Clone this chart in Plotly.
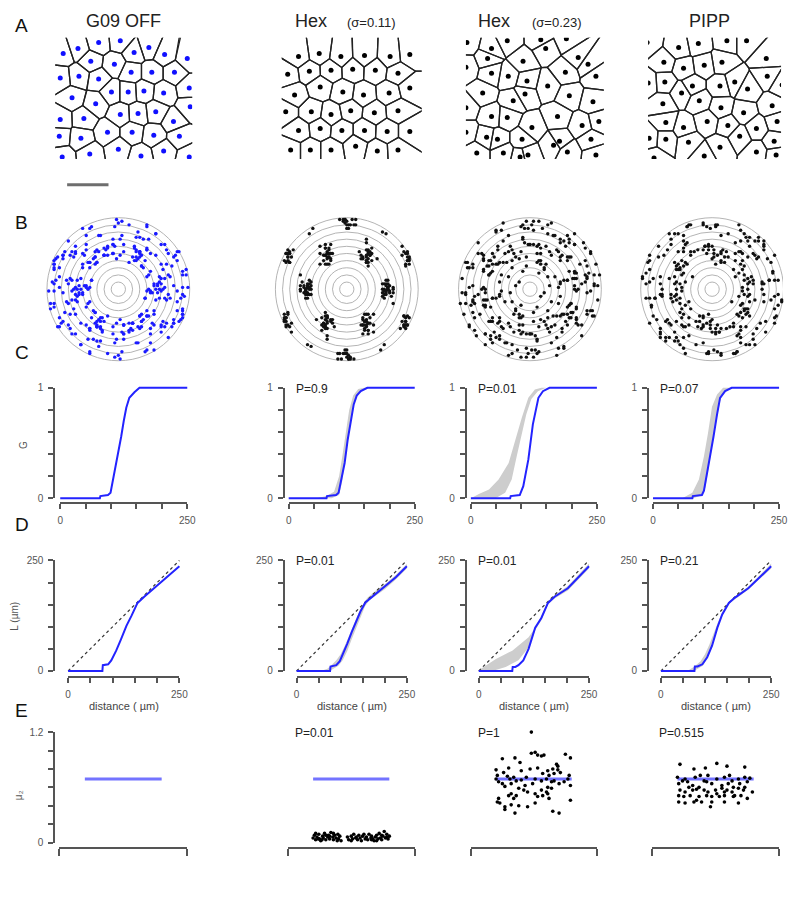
import plotly.graph_objects as go

W, H = 784, 883          # figure size; page body margin (8px) brings the page to 800x899
OFF = 8

# ---------------- DATA ----------------
# Row A: cell positions (pixel-like units inside each field)
a1_x = [61,76,97,119,133,148,164,187,89,113,58,77,97,130,151,174,189,110,127,143,163,70,94,119,137,155,173,190,58,82,106,131,153,179,57,79,88,117,140,163,189,60]
a1_y = [48,43,37,35,47,42,49,53,56,59,73,71,74,67,67,67,83,87,87,86,88,93,99,110,109,107,117,102,115,114,128,128,131,132,132,134,150,145,152,147,153,153]
a2_x = [300,321,343,367,393,413,289,311,333,355,378,401,296,322,345,366,392,413,287,313,333,353,377,401,300,322,344,367,390,413,292,312,333,358,380,401]
a2_y = [51,48,51,50,51,49,69,66,65,64,65,68,90,82,87,90,88,83,107,107,110,106,108,106,126,124,126,126,127,127,146,146,146,142,147,146]
a3_x = [471,496,512,546,572,492,528,551,584,594,470,496,513,532,553,571,602,487,530,518,575,599,470,496,512,563,588,605,537,491,502,527,470,565,559,597,481,508,533,525,573,602]
a3_y = [37,43,35,34,33,53,56,43,52,59,62,68,71,76,81,67,71,88,89,96,91,97,103,112,113,112,121,117,123,133,135,135,128,137,141,135,149,149,151,153,148,151]
a4_x = [654,686,706,735,755,671,691,712,730,775,655,672,700,728,743,756,776,791,689,707,670,729,752,781,673,691,715,736,765,786,656,673,696,728,748,765,783,712,785,661]
a4_y = [37,42,38,35,35,57,63,60,57,53,78,77,81,81,77,84,71,80,88,96,99,103,108,101,118,123,117,121,124,117,134,135,138,143,132,148,137,152,151,154]
a_fields = [(53, 192), (283, 425), (470, 610), (655, 790)]
a_top, a_bot = 32, 155
corr_radius = 40

# Row C: G functions
c_x = [[0,78,79,94,99,104,110,115,120,125,130,136,146,156,250],
       [0,75,76,94,99,104,111,117,124,129,135,143,156,250],
       [0,78,79,97,104,114,123,130,134,143,156,250],
       [0,78,79,97,101,110,120,127,133,143,156,250]]
c_y = [[0,0,0.02,0.03,0.05,0.17,0.32,0.41,0.56,0.70,0.82,0.91,0.96,1,1],
       [0,0,0.02,0.03,0.05,0.17,0.32,0.53,0.73,0.85,0.93,0.97,1,1],
       [0,0,0.02,0.03,0.11,0.35,0.67,0.82,0.91,0.97,1,1],
       [0,0,0.02,0.03,0.07,0.29,0.56,0.76,0.91,0.97,1,1]]
c_env_a_x = [None, [55,75,90,100,107,113,120,128,138,150], [0,16,36,55,75,88,101,114,127,140], [58,78,91,101,109,117,127,139,150]]
c_env_a_y = [None, [0,0.02,0.06,0.2,0.4,0.6,0.8,0.93,0.99,1], [0,0.04,0.08,0.17,0.32,0.53,0.73,0.91,0.985,1], [0,0.05,0.17,0.38,0.59,0.83,0.94,1,1]]
c_env_b_x = [None, [85,100,106,112,118,125,132,142,160], [0,49,68,81,91,101,110,120,133,149], [80,98,104,112,121,128,134,144,156]]
c_env_b_y = [None, [0,0.03,0.15,0.35,0.55,0.75,0.9,0.97,1], [0,0,0.05,0.17,0.38,0.59,0.76,0.90,0.97,1], [0,0.03,0.1,0.3,0.56,0.76,0.9,0.97,1]]
c_p = ["", "P=0.9", "P=0.01", "P=0.07"]

# Row D: L functions
d_x = [[0,77,78,90,97,108,119,131,142,156,171,193,223,250],
       [0,76,77,90,98,106,115,125,135,145,156,172,195,225,250],
       [0,76,77,83,90,101,113,128,142,157,172,202,250],
       [0,76,77,83,94,105,116,128,139,154,168,198,250]]
d_y = [[0,0,13,15,24,46,72,102,124,154,168,187,212,237],
       [0,0,10,13,22,40,62,88,112,135,155,168,186,212,237],
       [0,0,9,9,13,24,50,98,120,154,168,187,237],
       [0,0,10,10,15,31,57,98,128,154,166,187,237]]
d_env_a_x = [None, [55,70,80,90,100,110,120,130,140,150,160,180,200,225,250], [0,5,39,76,113,128,142,157,172,202,250], [60,76,90,100,110,120,130,140,155,170,200,250]]
d_env_a_y = [None, [0,5,14,24,38,58,82,108,130,150,165,182,196,217,242], [0,5,27,46,76,98,125,157,172,192,243], [0,10,22,38,60,88,112,134,156,170,192,243]]
d_env_b_x = [None, [75,85,95,105,115,125,135,145,155,165,180,200,225,250], [0,31,61,90,113,128,142,157,172,202,250], [75,85,95,105,116,128,139,154,168,198,250]]
d_env_b_y = [None, [0,5,12,25,45,72,98,122,146,160,170,185,207,232], [0,0,9,24,53,92,115,151,164,182,232], [0,6,12,28,54,95,125,152,163,184,232]]
d_p = ["", "P=0.01", "P=0.01", "P=0.21"]

# Row E: mu2 values
e_mean = 0.69
e_span = [0.2, 0.8]
e2_x = [0.20,0.21,0.22,0.23,0.245,0.25,0.26,0.275,0.28,0.29,0.30,0.315,0.32,0.33,0.34,0.355,0.36,0.37,0.38,0.395,0.40,0.41,0.42,0.47,0.48,0.50,0.51,0.52,0.535,0.55,0.56,0.57,0.58,0.59,0.61,0.62,0.63,0.64,0.655,0.66,0.67,0.68,0.69,0.70,0.71,0.72,0.73,0.74,0.75,0.76,0.77,0.78,0.79,0.80,0.22,0.24,0.27,0.30,0.33,0.36,0.39,0.50,0.54,0.60,0.66,0.70,0.74,0.78]
e2_y = [0.05,0.08,0.03,0.06,0.09,0.04,0.02,0.07,0.05,0.10,0.03,0.06,0.08,0.04,0.11,0.06,0.03,0.08,0.05,0.09,0.04,0.07,0.02,0.06,0.03,0.07,0.04,0.09,0.05,0.03,0.08,0.05,0.02,0.07,0.04,0.06,0.03,0.09,0.05,0.07,0.04,0.02,0.06,0.08,0.04,0.10,0.05,0.03,0.07,0.12,0.05,0.09,0.04,0.07,0.10,0.04,0.03,0.08,0.07,0.10,0.02,0.02,0.06,0.09,0.03,0.02,0.08,0.06]
e3_x = [0.48,0.25,0.35,0.39,0.48,0.51,0.53,0.56,0.58,0.75,0.79,0.68,0.30,0.20,0.26,0.40,0.47,0.53,0.61,0.65,0.69,0.20,0.22,0.25,0.27,0.31,0.34,0.36,0.40,0.44,0.51,0.56,0.60,0.64,0.66,0.70,0.77,0.79,0.30,0.32,0.38,0.42,0.45,0.51,0.56,0.60,0.61,0.22,0.34,0.36,0.53,0.57,0.61,0.21,0.23,0.27,0.32,0.38,0.45,0.51,0.62,0.79,0.27,0.35,0.65,0.70,0.21,0.29,0.32,0.43,0.49,0.57,0.62,0.66,0.71,0.74,0.78,0.64,0.69]
e3_y = [1.20,0.91,0.92,0.87,0.97,0.98,0.95,0.94,0.95,0.96,0.92,0.85,0.81,0.79,0.76,0.78,0.80,0.81,0.78,0.80,0.79,0.69,0.66,0.64,0.61,0.69,0.71,0.67,0.68,0.71,0.69,0.67,0.69,0.66,0.67,0.64,0.69,0.62,0.51,0.53,0.59,0.57,0.55,0.53,0.57,0.55,0.60,0.48,0.48,0.51,0.50,0.51,0.53,0.44,0.43,0.39,0.41,0.40,0.39,0.43,0.48,0.46,0.36,0.32,0.34,0.32,0.73,0.72,0.64,0.62,0.64,0.75,0.73,0.75,0.76,0.66,0.73,0.59,0.83]
e4_x = [0.22,0.33,0.42,0.51,0.59,0.73,0.20,0.26,0.34,0.38,0.44,0.51,0.57,0.61,0.68,0.73,0.77,0.21,0.28,0.32,0.37,0.43,0.47,0.55,0.60,0.64,0.69,0.75,0.22,0.26,0.32,0.35,0.41,0.44,0.50,0.55,0.59,0.63,0.68,0.79,0.21,0.25,0.30,0.37,0.43,0.47,0.53,0.57,0.64,0.70,0.75,0.21,0.26,0.33,0.39,0.47,0.57,0.68,0.46,0.24,0.41,0.63,0.72,0.57,0.29,0.65,0.35,0.73,0.51]
e4_y = [0.85,0.80,0.81,0.86,0.83,0.82,0.71,0.69,0.71,0.73,0.73,0.69,0.71,0.73,0.69,0.71,0.70,0.64,0.66,0.62,0.60,0.66,0.64,0.62,0.64,0.60,0.64,0.66,0.57,0.55,0.57,0.58,0.57,0.55,0.57,0.59,0.57,0.55,0.59,0.55,0.51,0.50,0.51,0.50,0.51,0.50,0.50,0.51,0.50,0.51,0.48,0.44,0.43,0.44,0.44,0.44,0.44,0.43,0.39,0.67,0.67,0.67,0.57,0.55,0.60,0.51,0.46,0.60,0.53]
e_pts_x = [[], e2_x, e3_x, e4_x]
e_pts_y = [[], e2_y, e3_y, e4_y]
e_p = ["", "P=0.01", "P=1", "P=0.515"]

g_ticks = [0, 250]
g_minor = [50, 100, 150, 200]
g_yticks = [0, 1]
g_yminor = [0.2, 0.4, 0.6, 0.8]
e_yticks = [0, 1.2]
e_yminor = [0.2, 0.4, 0.6, 0.8, 1.0]

# ---------------- LAYOUT GEOMETRY (screen pixels) ----------------
c_xdom = [(58, 187), (290, 418), (475, 603), (660, 788)]
c_yaxis_pos = [52, 285, 470, 655]
c_top, c_bot, c_xaxis = 387, 499, 504
d_xdom = [(66, 179), (298, 410), (483, 595), (668, 780)]
d_top, d_bot, d_xaxis = 562, 674, 680
e_xdom = [(57, 187), (289, 418), (475, 603), (659, 788)]
e_top, e_bot, e_xaxis = 736, 848, 853
b_centers = [117, 349, 535, 720]
b_cy, b_rad = 287, 72.5

BLUE = "#2323ff"
EBLUE = "#7373ff"
GRAY = "#cdcdcd"
AXC = "#555555"
FONT = "Liberation Sans"

fig = go.Figure()
layout = dict(width=W, height=H, margin=dict(l=0, r=0, t=0, b=0),
              paper_bgcolor="white", plot_bgcolor="rgba(0,0,0,0)",
              showlegend=False, shapes=[], annotations=[])


def PX(v):
    return (v - OFF) / W


def PY(v):
    return 1 - (v - OFF) / H


counter = [0]


def clamp_map(p0, p1, r0, r1, lo, hi):
    # clamp pixel interval to [lo, hi] and adjust data range linearly
    s = (r1 - r0) / (p1 - p0)
    q0, q1 = max(p0, lo), min(p1, hi)
    return q0, q1, r0 + (q0 - p0) * s, r0 + (q1 - p0) * s


def new_axes(xdom, ydom, xr, yr, xo=None, yo=None):
    counter[0] += 1
    n = counter[0]
    s = "" if n == 1 else str(n)
    qx0, qx1, rx0, rx1 = clamp_map(xdom[0], xdom[1], xr[0], xr[1], OFF, OFF + W)
    qy0, qy1, ry1, ry0 = clamp_map(ydom[0], ydom[1], yr[1], yr[0], OFF, OFF + H)
    hid = dict(visible=False, showgrid=False, zeroline=False, fixedrange=True)
    xd = dict(hid, domain=[PX(qx0), PX(qx1)], range=[rx0, rx1], anchor="y" + s)
    yd = dict(hid, domain=[PY(qy1), PY(qy0)], range=[ry0, ry1], anchor="x" + s)
    if xo:
        xd.update(xo)
    if yo:
        yd.update(yo)
    layout["xaxis" + s] = xd
    layout["yaxis" + s] = yd
    return "x" + s, "y" + s


def padded(dom, rng, pad):
    scale = (rng[1] - rng[0]) / (dom[1] - dom[0])
    return (dom[0] - pad, dom[1] + pad), [rng[0] - pad * scale, rng[1] + pad * scale]


def vis_axis(tickvals, minorvals, pos, ticklen=5, side=None, labels=True):
    d = dict(visible=True, showline=True, linecolor=AXC, linewidth=2,
             ticks="outside", ticklen=ticklen, tickwidth=1.6, tickcolor=AXC,
             tickmode="array", tickvals=tickvals, ticktext=[("%g" % v) for v in tickvals],
             showticklabels=labels,
             tickfont=dict(family=FONT, size=10, color="#555"),
             anchor="free", position=pos, showgrid=False, zeroline=False,
             ticklabelstandoff=3)
    if minorvals:
        d["minor"] = dict(tickmode="array", tickvals=minorvals, ticks="outside", ticklen=ticklen,
                          tickwidth=1.6, tickcolor=AXC, showgrid=False)
    if side:
        d["side"] = side
    return d


def axis_frame(xdom, ydom, xr, yr, xo, yo):
    xa, ya = new_axes(xdom, ydom, xr, yr, xo, yo)
    fig.add_trace(go.Scatter(x=[None], y=[None], xaxis=xa, yaxis=ya, hoverinfo="skip"))


def ann(text, x, y, size, xanchor="center", yanchor="middle", color="#222", angle=0):
    layout["annotations"].append(dict(text=text, x=PX(x), y=PY(y), xref="paper", yref="paper",
                                      showarrow=False, xanchor=xanchor, yanchor=yanchor,
                                      textangle=angle,
                                      font=dict(family=FONT, size=size, color=color)))


def clip_half(poly, p, q):
    mx, my = (p[0] + q[0]) / 2, (p[1] + q[1]) / 2
    nx, ny = q[0] - p[0], q[1] - p[1]
    out = []
    n = len(poly)
    for i in range(n):
        a = poly[i]
        b = poly[(i + 1) % n]
        da = (a[0] - mx) * nx + (a[1] - my) * ny
        db = (b[0] - mx) * nx + (b[1] - my) * ny
        if da <= 0:
            out.append(a)
        if (da <= 0) != (db <= 0):
            t = da / (da - db)
            out.append((a[0] + t * (b[0] - a[0]), a[1] + t * (b[1] - a[1])))
    return out


def voronoi_lines(xs, ys, box):
    lx, ly = [], []
    pts = list(zip(xs, ys))
    for i, p in enumerate(pts):
        poly = [(box[0], box[2]), (box[1], box[2]), (box[1], box[3]), (box[0], box[3])]
        for j, q in enumerate(pts):
            if i != j and poly:
                poly = clip_half(poly, p, q)
        if poly:
            for v in poly + [poly[0]]:
                lx.append(v[0])
                ly.append(v[1])
            lx.append(None)
            ly.append(None)
    return lx, ly


def autocorr(xs, ys, R):
    dx, dy = [], []
    for i in range(len(xs)):
        for j in range(len(xs)):
            if i == j:
                continue
            ux, uy = xs[j] - xs[i], ys[j] - ys[i]
            if ux * ux + uy * uy < R * R:
                dx.append(ux)
                dy.append(uy)
    return dx, dy


a_x = [a1_x, a2_x, a3_x, a4_x]
a_y = [a1_y, a2_y, a3_y, a4_y]

for k in range(4):
    dot_col = "#1010ff" if k == 0 else "black"
    # ---- Row A: Voronoi tessellation
    x0, x1 = a_fields[k]
    xa, ya = new_axes((x0, x1), (a_top, a_bot), [x0, x1], [a_bot, a_top])
    lx, ly = voronoi_lines(a_x[k], a_y[k], (x0 - 150, x1 + 150, a_top - 150, a_bot + 150))
    fig.add_trace(go.Scatter(x=lx, y=ly, mode="lines", line=dict(color="#222", width=1.3),
                             xaxis=xa, yaxis=ya, hoverinfo="skip"))
    fig.add_trace(go.Scatter(x=a_x[k], y=a_y[k], mode="markers",
                             marker=dict(color=dot_col, size=5), cliponaxis=True,
                             xaxis=xa, yaxis=ya, hoverinfo="skip"))

    # ---- Row B: spatial autocorrelogram
    half = 74
    rr = corr_radius * half / b_rad
    cx = b_centers[k]
    xa, ya = new_axes((cx - half, cx + half), (b_cy - half, b_cy + half), [-rr, rr], [-rr, rr])
    for m in range(1, 11):
        r = corr_radius * m / 10
        layout["shapes"].append(dict(type="circle", xref=xa, yref=ya, x0=-r, x1=r, y0=-r, y1=r,
                                     line=dict(color="#b4b4b4", width=1), layer="below"))
    bx, by = autocorr(a_x[k], a_y[k], corr_radius)
    fig.add_trace(go.Scatter(x=bx, y=by, mode="markers",
                             marker=dict(color="#1a1aff" if k == 0 else "#111", size=3.4),
                             cliponaxis=False,
                             xaxis=xa, yaxis=ya, hoverinfo="skip"))

    # ---- Row C: G function
    yaxis_px = c_yaxis_pos[k]
    axis_frame(c_xdom[k], (c_top, c_bot), [0, 250], [0, 1],
               vis_axis(g_ticks, g_minor, PY(c_xaxis)),
               vis_axis(g_yticks, g_yminor, PX(yaxis_px), side="left"))
    xd, xr = padded(c_xdom[k], [0, 250], 4)
    ydpx = (c_top - 4, c_bot + 4)
    yr = [0 - 4 / 112, 1 + 4 / 112]
    xa, ya = new_axes(xd, ydpx, xr, yr)
    if c_env_a_x[k] is not None:
        fig.add_trace(go.Scatter(x=c_env_a_x[k] + c_env_b_x[k][::-1], y=c_env_a_y[k] + c_env_b_y[k][::-1],
                                 fill="toself", fillcolor=GRAY, mode="lines", line=dict(width=0, color=GRAY),
                                 xaxis=xa, yaxis=ya, hoverinfo="skip"))
    fig.add_trace(go.Scatter(x=c_x[k], y=c_y[k], mode="lines", line=dict(color=BLUE, width=2),
                             xaxis=xa, yaxis=ya, hoverinfo="skip"))
    if c_p[k]:
        ann(c_p[k], c_xdom[k][0] + 5, c_top + 1, 12, xanchor="left")

    # ---- Row D: L function
    axis_frame(d_xdom[k], (d_top, d_bot), [0, 250], [0, 250],
               vis_axis(g_ticks, g_minor, PY(d_xaxis)),
               vis_axis(g_ticks, g_minor, PX(yaxis_px), side="left"))
    xd, xr = padded(d_xdom[k], [0, 250], 4)
    ydpx = (d_top - 4, d_bot + 4)
    yr = [0 - 4 * 250 / 112, 250 + 4 * 250 / 112]
    xa, ya = new_axes(xd, ydpx, xr, yr)
    if d_env_a_x[k] is not None:
        fig.add_trace(go.Scatter(x=d_env_a_x[k] + d_env_b_x[k][::-1], y=d_env_a_y[k] + d_env_b_y[k][::-1],
                                 fill="toself", fillcolor=GRAY, mode="lines", line=dict(width=0, color=GRAY),
                                 xaxis=xa, yaxis=ya, hoverinfo="skip"))
    fig.add_trace(go.Scatter(x=[0, 250], y=[0, 250], mode="lines",
                             line=dict(color="#333", width=1.2, dash="dot"),
                             xaxis=xa, yaxis=ya, hoverinfo="skip"))
    fig.add_trace(go.Scatter(x=d_x[k], y=d_y[k], mode="lines", line=dict(color=BLUE, width=2),
                             xaxis=xa, yaxis=ya, hoverinfo="skip"))
    if d_p[k]:
        ann(d_p[k], d_xdom[k][0] - 3, d_top + 1, 12, xanchor="left")
    ann("distance ( µm)", (d_xdom[k][0] + d_xdom[k][1]) / 2, 710, 11, color="#444")

    # ---- Row E: mu2
    if k == 0:
        yo = vis_axis(e_yticks, e_yminor, PX(52), side="left")
    else:
        yo = dict(visible=False)
    axis_frame(e_xdom[k], (e_top, e_bot), [0, 1], [0, 1.2],
               vis_axis([0, 1], None, PY(e_xaxis), ticklen=7, labels=False), yo)
    xd, xr = padded(e_xdom[k], [0, 1], 4)
    ydpx = (e_top - 4, e_bot + 4)
    yr = [0 - 4 * 1.2 / 112, 1.2 + 4 * 1.2 / 112]
    xa, ya = new_axes(xd, ydpx, xr, yr)
    fig.add_trace(go.Scatter(x=e_span, y=[e_mean, e_mean], mode="lines",
                             line=dict(color=EBLUE, width=3),
                             xaxis=xa, yaxis=ya, hoverinfo="skip"))
    if e_pts_x[k]:
        fig.add_trace(go.Scatter(x=e_pts_x[k], y=e_pts_y[k], mode="markers",
                                 marker=dict(color="black", size=3.6),
                                 xaxis=xa, yaxis=ya, hoverinfo="skip"))
    if e_p[k]:
        ann(e_p[k], e_xdom[k][0] + 5, e_top + 1, 12, xanchor="left")

# Column titles
ann("G09 OFF", 122, 15, 18)
ann("Hex", 313, 15, 18)
ann("(σ=0.11)", 374, 17, 13)
ann("Hex", 499, 15, 18)
ann("(σ=0.23)", 562, 17, 13)
ann("PIPP", 717, 15, 18)

# Panel letters
for letter, yy in zip("ABCDE", [20, 219, 351, 526, 714]):
    ann(letter, 19, yy, 19, color="#111")

# Axis titles
ann("G", 20, 445, 10, color="#555", angle=-90)
ann("L (µm)", 12, 618, 10, color="#555", angle=-90)
ann("μ₂", 15, 800, 10, color="#555", angle=-90)

# scale bar
layout["shapes"].append(dict(type="line", xref="paper", yref="paper",
                             x0=PX(65), x1=PX(107), y0=PY(181), y1=PY(181),
                             line=dict(color="#6e6e6e", width=3)))

fig.update_layout(**layout)
fig.write_html("out.html", config={"displayModeBar": False})
